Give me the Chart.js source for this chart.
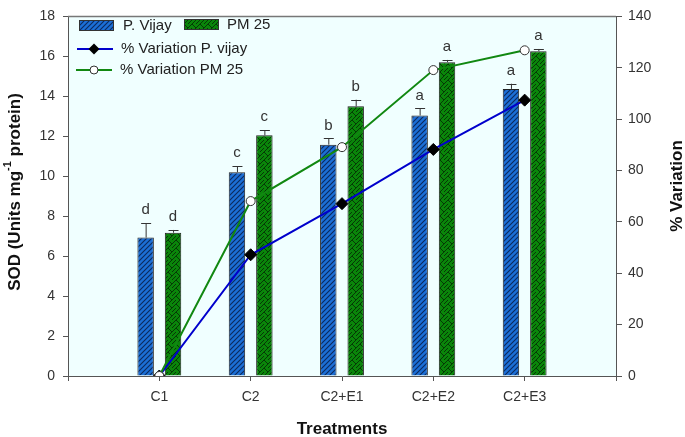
<!DOCTYPE html>
<html>
<head>
<meta charset="utf-8">
<script src="https://cdn.jsdelivr.net/npm/chart.js@4.4.1/dist/chart.umd.min.js"></script>
<style>
  html, body { margin: 0; padding: 0; background: #fff; }
  #wrap { width: 685px; height: 437px; }
</style>
</head>
<body>
<div id="wrap"><canvas id="grafico"></canvas></div>
<script>
// data
var treatments = ['C1', 'C2', 'C2+E1', 'C2+E2', 'C2+E3'];
var sodVijay = [6.93, 10.2, 11.58, 13.04, 14.37];
var sodPM25 = [7.17, 12.05, 13.5, 15.71, 16.26];
var errVijay = [0.72, 0.31, 0.31, 0.35, 0.26];
var errPM25 = [0.14, 0.26, 0.33, 0.11, 0.11];
var lettersVijay = ['d', 'c', 'b', 'a', 'a'];
var lettersPM25 = ['d', 'c', 'b', 'a', 'a'];
var varVijay = [0, 47.2, 67.1, 88.2, 107.4];
var varPM25 = [0, 68.1, 89.1, 119.1, 126.8];
var sodTicks = [0, 2, 4, 6, 8, 10, 12, 14, 16, 18];
var varTicks = [0, 20, 40, 60, 80, 100, 120, 140];

var FONT = '"Liberation Sans", Arial, sans-serif';

// empty slot on each side of the categories, like the original axis
var labels = [''].concat(treatments, ['']);
function pad(arr) { return [null].concat(arr, [null]); }

function hatchBlue() {
    var c = document.createElement('canvas');
    c.width = 5; c.height = 5;
    var g = c.getContext('2d');
    g.fillStyle = '#1c6fd6';
    g.fillRect(0, 0, 5, 5);
    g.strokeStyle = '#0b2a5e';
    g.lineWidth = 1.1;
    g.beginPath();
    g.moveTo(-1, 6); g.lineTo(6, -1);
    g.moveTo(-1, 1); g.lineTo(1, -1);
    g.moveTo(4, 6); g.lineTo(6, 4);
    g.stroke();
    return g.createPattern(c, 'repeat');
}

function hatchGreen() {
    var c = document.createElement('canvas');
    c.width = 8; c.height = 8;
    var g = c.getContext('2d');
    g.fillStyle = '#0a850a';
    g.fillRect(0, 0, 8, 8);
    g.strokeStyle = '#053a05';
    g.lineWidth = 1;
    g.beginPath();
    g.moveTo(0, 8); g.lineTo(8, 0);
    g.moveTo(0, 0); g.lineTo(4, 4);
    g.moveTo(4, 8); g.lineTo(8, 4);
    g.stroke();
    return g.createPattern(c, 'repeat');
}

var blueFill = hatchBlue();
var greenFill = hatchGreen();

var extras = {
    id: 'extras',
    beforeDraw: function (chart) {
        var a = chart.chartArea, ctx = chart.ctx;
        ctx.save();
        ctx.fillStyle = '#f0ffff';
        ctx.fillRect(a.left, a.top, a.right - a.left, a.bottom - a.top);
        ctx.restore();
    },
    afterDatasetsDraw: function (chart) {
        var ctx = chart.ctx;
        var y = chart.scales.y;
        ctx.save();
        // error bars + letters
        [[0, sodVijay, errVijay, lettersVijay], [1, sodPM25, errPM25, lettersPM25]].forEach(function (s) {
            var meta = chart.getDatasetMeta(s[0]);
            s[1].forEach(function (v, i) {
                var bar = meta.data[i + 1];
                var x = bar.x;
                var y0 = y.getPixelForValue(v);
                var y1 = y.getPixelForValue(v + s[2][i]);
                ctx.strokeStyle = '#333';
                ctx.lineWidth = 1;
                ctx.beginPath();
                ctx.moveTo(x + 0.5, y0); ctx.lineTo(x + 0.5, y1);
                ctx.moveTo(x - 4.5, Math.round(y1) + 0.5); ctx.lineTo(x + 5.5, Math.round(y1) + 0.5);
                ctx.stroke();
                ctx.fillStyle = '#333';
                ctx.font = '15px ' + FONT;
                ctx.textAlign = 'center';
                ctx.textBaseline = 'middle';
                ctx.fillText(s[3][i], x, y1 - 13);
            });
        });
        ctx.restore();
    },
    afterDraw: function (chart) {
        var ctx = chart.ctx, a = chart.chartArea;
        ctx.save();
        // frame top
        ctx.strokeStyle = '#777';
        ctx.lineWidth = 1.5;
        ctx.beginPath();
        ctx.moveTo(a.left, a.top); ctx.lineTo(a.right, a.top);
        ctx.stroke();

        // legend
        ctx.font = '15px ' + FONT;
        ctx.textBaseline = 'middle';
        ctx.textAlign = 'left';
        ctx.lineWidth = 1;
        ctx.strokeStyle = '#333';
        ctx.fillStyle = blueFill;
        ctx.fillRect(79.5, 20.5, 34, 10);
        ctx.strokeRect(79.5, 20.5, 34, 10);
        ctx.fillStyle = greenFill;
        ctx.fillRect(184.5, 19.5, 34, 10);
        ctx.strokeRect(184.5, 19.5, 34, 10);
        ctx.fillStyle = '#222';
        ctx.fillText(chart.data.datasets[0].label, 123, 26);
        ctx.fillText(chart.data.datasets[1].label, 227, 25);

        ctx.lineWidth = 2;
        ctx.strokeStyle = '#0000cc';
        ctx.beginPath(); ctx.moveTo(77, 49); ctx.lineTo(113, 49); ctx.stroke();
        ctx.fillStyle = '#000';
        ctx.beginPath();
        ctx.moveTo(94, 43.5); ctx.lineTo(99.5, 49); ctx.lineTo(94, 54.5); ctx.lineTo(88.5, 49);
        ctx.closePath(); ctx.fill();
        ctx.strokeStyle = '#118811';
        ctx.beginPath(); ctx.moveTo(76, 70); ctx.lineTo(112, 70); ctx.stroke();
        ctx.fillStyle = '#fff';
        ctx.strokeStyle = '#333';
        ctx.lineWidth = 1;
        ctx.beginPath(); ctx.arc(94, 70, 4, 0, Math.PI * 2); ctx.fill(); ctx.stroke();
        ctx.fillStyle = '#222';
        ctx.fillText(chart.data.datasets[2].label, 121, 49);
        ctx.fillText(chart.data.datasets[3].label, 120, 70);

        // axis titles
        ctx.fillStyle = '#111';
        ctx.font = 'bold 17px ' + FONT;
        ctx.textAlign = 'center';
        ctx.fillText('Treatments', 342, 429);

        ctx.save();
        ctx.translate(677, 186);
        ctx.rotate(-Math.PI / 2);
        ctx.fillText('% Variation', 0, 0);
        ctx.restore();

        ctx.save();
        ctx.translate(15, 192);
        ctx.rotate(-Math.PI / 2);
        var p1 = 'SOD (Units mg', sup = '-1', p2 = ' protein)';
        ctx.font = 'bold 17px ' + FONT;
        var w1 = ctx.measureText(p1).width, w3 = ctx.measureText(p2).width;
        ctx.font = 'bold 11px ' + FONT;
        var w2 = ctx.measureText(sup).width;
        var x0 = -(w1 + w2 + w3) / 2;
        ctx.textAlign = 'left';
        ctx.font = 'bold 17px ' + FONT;
        ctx.fillText(p1, x0, 0);
        ctx.font = 'bold 11px ' + FONT;
        ctx.fillText(sup, x0 + w1, -7);
        ctx.font = 'bold 17px ' + FONT;
        ctx.fillText(p2, x0 + w1 + w2, 0);
        ctx.restore();

        ctx.restore();
    }
};

var ctx = document.getElementById('grafico').getContext('2d');

var chart = new Chart(ctx, {
    data: {
        labels: labels,
        datasets: [{
            type: 'bar',
            label: 'P. Vijay',
            data: pad(sodVijay),
            backgroundColor: blueFill,
            borderColor: '#222',
            borderWidth: 1,
            categoryPercentage: 0.6,
            barPercentage: 0.6,
            yAxisID: 'y',
            order: 3
        }, {
            type: 'bar',
            label: 'PM 25',
            data: pad(sodPM25),
            backgroundColor: greenFill,
            borderColor: '#222',
            borderWidth: 1,
            categoryPercentage: 0.6,
            barPercentage: 0.6,
            yAxisID: 'y',
            order: 3
        }, {
            type: 'line',
            label: '% Variation P. vijay',
            data: pad(varVijay),
            borderColor: '#0000cc',
            borderWidth: 2,
            pointStyle: 'rectRot',
            pointRadius: 6,
            pointBackgroundColor: '#000',
            pointBorderColor: '#000',
            pointBorderWidth: 1,
            yAxisID: 'y1',
            order: 2
        }, {
            type: 'line',
            label: '% Variation PM 25',
            data: pad(varPM25),
            borderColor: '#118811',
            borderWidth: 2,
            pointStyle: 'circle',
            pointRadius: 4.5,
            pointBackgroundColor: '#fff',
            pointBorderColor: '#333',
            pointBorderWidth: 1,
            yAxisID: 'y1',
            order: 1
        }]
    },
    options: {
        responsive: true,
        maintainAspectRatio: false,
        animation: false,
        layout: { padding: { top: 5, left: 0, right: 0, bottom: 0 } },
        plugins: {
            legend: { display: false },
            tooltip: { enabled: false }
        },
        scales: {
            x: {
                type: 'category',
                offset: false,
                grid: { display: true, offset: false, drawOnChartArea: false, drawTicks: true, tickLength: 5, color: '#555' },
                border: { display: true, color: '#555', width: 1 },
                ticks: { color: '#333', font: { family: FONT, size: 14 }, padding: 8, autoSkip: false, maxRotation: 0 },
                afterFit: function (s) { s.height = 61; }
            },
            y: {
                position: 'left',
                min: 0, max: 18,
                afterBuildTicks: function (s) { s.ticks = sodTicks.map(function (v) { return { value: v }; }); },
                grid: { display: true, drawOnChartArea: false, drawTicks: true, tickLength: 5, color: '#555' },
                border: { display: true, color: '#555', width: 1 },
                ticks: { color: '#333', font: { family: FONT, size: 14 }, padding: 8 },
                afterFit: function (s) { s.width = 68; }
            },
            y1: {
                position: 'right',
                min: 0, max: 140,
                afterBuildTicks: function (s) { s.ticks = varTicks.map(function (v) { return { value: v }; }); },
                grid: { display: true, drawOnChartArea: false, drawTicks: true, tickLength: 6, color: '#555' },
                border: { display: true, color: '#555', width: 1 },
                ticks: { color: '#333', font: { family: FONT, size: 14 }, padding: 6 },
                afterFit: function (s) { s.width = 69; }
            }
        }
    },
    plugins: [extras]
});
</script>
</body>
</html>
